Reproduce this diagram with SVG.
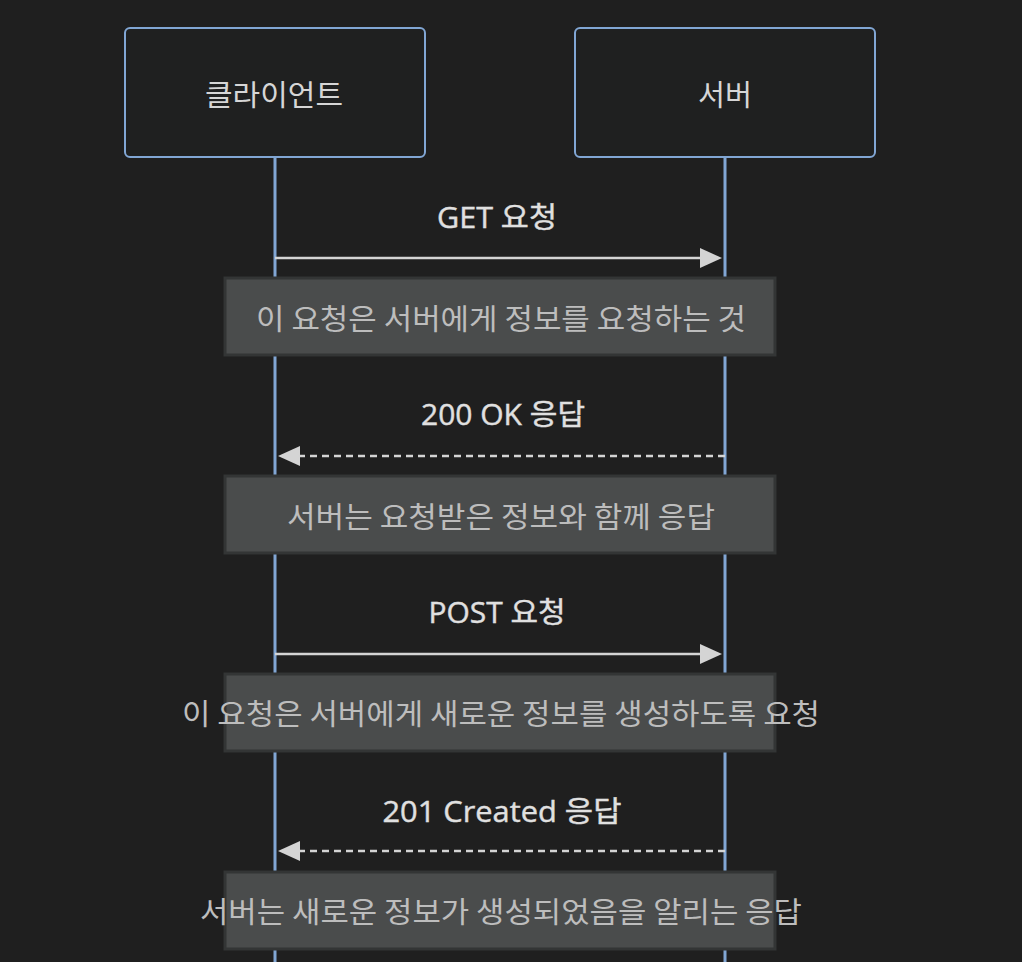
<svg xmlns="http://www.w3.org/2000/svg" width="1022" height="962" viewBox="0 0 1022 962">
<defs>
<style>
.bg{fill:#1f1f1f}
.actor rect{fill:#1f2020;stroke:#81a6d4;stroke-width:2}
.actor text{fill:#d6d6d6;font-family:"Noto Sans CJK KR","Noto Sans",sans-serif;font-size:29px;text-anchor:middle;dominant-baseline:central}
.life{stroke:#81a6d4;stroke-width:3}
.msg{stroke:#d4d4d4;stroke-width:2.5;fill:none}
.dash{stroke-dasharray:7 5}
.head{fill:#d4d4d4}
.mtext{fill:#e0e0e0;font-family:"Open Sans","Noto Sans CJK KR",sans-serif;font-size:29px;text-anchor:middle;dominant-baseline:central;stroke:#e0e0e0;stroke-width:0.4}
.note rect{fill:#4a4c4c;stroke:#333535;stroke-width:3}
.note text{fill:#bdbdbd;font-family:"Noto Sans CJK KR","Noto Sans",sans-serif;font-size:29px;text-anchor:middle;dominant-baseline:central}
</style>
</defs>
<rect class="bg" x="0" y="0" width="1022" height="962"/>
<g id="lifelines">
<line class="life" x1="275" y1="157" x2="275" y2="962"/>
<line class="life" x1="725" y1="157" x2="725" y2="962"/>
</g>
<g id="actor-client" class="actor">
<rect x="125" y="28" width="300" height="129" rx="5"/>
<text x="274" y="93" textLength="138" lengthAdjust="spacingAndGlyphs">클라이언트</text>
</g>
<g id="actor-server" class="actor">
<rect x="575" y="28" width="300" height="129" rx="5"/>
<text x="725" y="93" textLength="54" lengthAdjust="spacingAndGlyphs">서버</text>
</g>
<g id="connectors">
<line class="msg" x1="275" y1="258" x2="702" y2="258"/>
<polygon class="head" points="722,258 700,248 700,268"/>
<line class="msg dash" x1="725" y1="456" x2="298" y2="456"/>
<polygon class="head" points="278,456 300,446 300,466"/>
<line class="msg" x1="275" y1="654" x2="702" y2="654"/>
<polygon class="head" points="722,654 700,644 700,664"/>
<line class="msg dash" x1="725" y1="851" x2="298" y2="851"/>
<polygon class="head" points="278,851 300,841 300,861"/>
</g>
<g id="labels">
<text class="mtext" x="497" y="216" textLength="120" lengthAdjust="spacingAndGlyphs">GET 요청</text>
<text class="mtext" x="503" y="413" textLength="164" lengthAdjust="spacingAndGlyphs">200 OK 응답</text>
<text class="mtext" x="497" y="611" textLength="137" lengthAdjust="spacingAndGlyphs">POST 요청</text>
<text class="mtext" x="502" y="810" textLength="239" lengthAdjust="spacingAndGlyphs">201 Created 응답</text>
</g>
<g id="note1" class="note">
<rect x="225" y="278" width="550" height="77"/>
<text x="501" y="317" textLength="490" lengthAdjust="spacingAndGlyphs">이 요청은 서버에게 정보를 요청하는 것</text>
</g>
<g id="note2" class="note">
<rect x="225" y="476" width="550" height="77"/>
<text x="501" y="515" textLength="428" lengthAdjust="spacingAndGlyphs">서버는 요청받은 정보와 함께 응답</text>
</g>
<g id="note3" class="note">
<rect x="225" y="674" width="550" height="77"/>
<text x="501" y="712" textLength="638" lengthAdjust="spacingAndGlyphs">이 요청은 서버에게 새로운 정보를 생성하도록 요청</text>
</g>
<g id="note4" class="note">
<rect x="225" y="872" width="550" height="77"/>
<text x="501" y="910" textLength="602" lengthAdjust="spacingAndGlyphs">서버는 새로운 정보가 생성되었음을 알리는 응답</text>
</g>
</svg>
